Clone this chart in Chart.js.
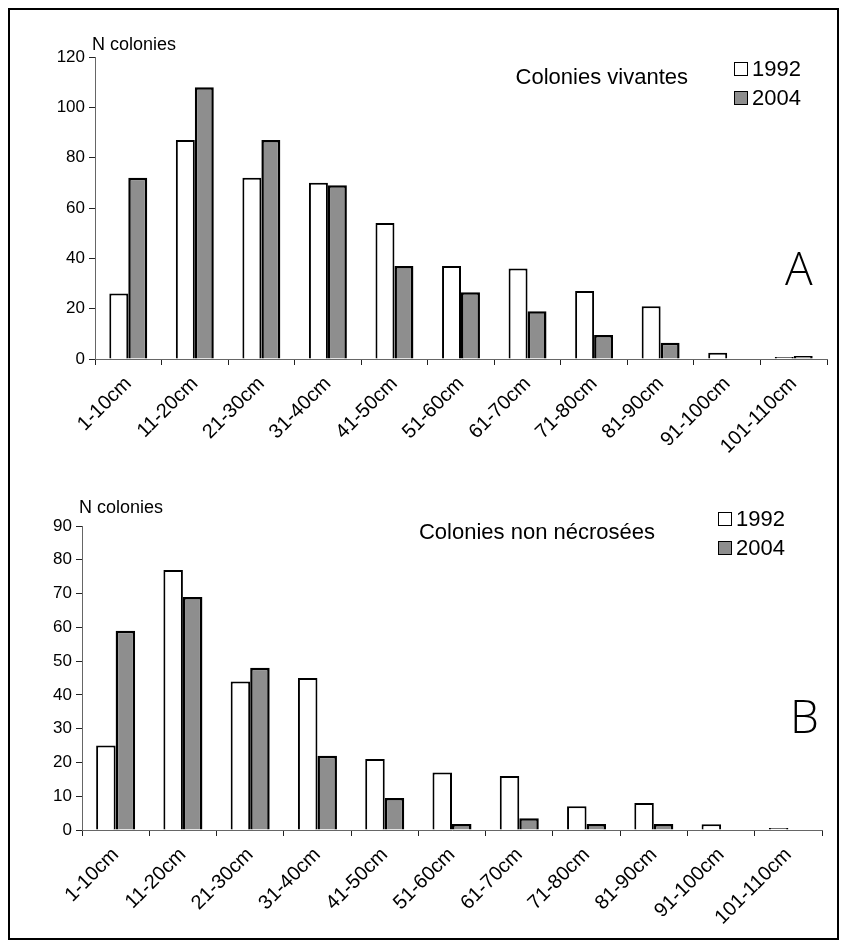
<!DOCTYPE html>
<html>
<head>
<meta charset="utf-8">
<script src="https://cdn.jsdelivr.net/npm/chart.js@4.4.1/dist/chart.umd.min.js"></script>
<style>
  body { margin: 0; background: #fff; width: 845px; height: 947px; position: relative; overflow: hidden; font-family: 'Liberation Sans', Arial, sans-serif; color: #000; }
  .frame { position: absolute; left: 8px; top: 8px; width: 827px; height: 928px; border: 2px solid #000; }
  .box { position: absolute; }
  .txt { position: absolute; line-height: 1; white-space: nowrap; }
  .sw { position: absolute; width: 12px; height: 12px; border: 1.5px solid #000; }
  .big { position: absolute; line-height: 1; font-family: 'Open Sans', sans-serif; font-weight: 300; font-size: 46px; color: #000; }
</style>
</head>
<body>
<div class="frame"></div>

<div class="box" style="left:0;top:0;width:845px;height:470px"><canvas id="chartA"></canvas></div>
<div class="box" style="left:0;top:470px;width:845px;height:477px"><canvas id="chartB"></canvas></div>

<!-- annotations graphe A -->
<div class="txt" style="left:92px;top:35px;font-size:18px">N colonies</div>
<div class="txt" style="right:157px;top:66px;font-size:22px">Colonies vivantes</div>
<div class="sw" style="left:734px;top:62px;background:#fff"></div>
<div class="txt" style="left:752px;top:58px;font-size:22px">1992</div>
<div class="sw" style="left:734px;top:91px;background:#8e8e8e"></div>
<div class="txt" style="left:752px;top:87px;font-size:22px">2004</div>
<div class="big" style="left:785px;top:244px">A</div>

<!-- annotations graphe B -->
<div class="txt" style="left:79px;top:498px;font-size:18px">N colonies</div>
<div class="txt" style="right:190px;top:521px;font-size:22px">Colonies non nécrosées</div>
<div class="sw" style="left:718px;top:512px;background:#fff"></div>
<div class="txt" style="left:736px;top:508px;font-size:22px">1992</div>
<div class="sw" style="left:718px;top:541px;background:#8e8e8e"></div>
<div class="txt" style="left:736px;top:537px;font-size:22px">2004</div>
<div class="big" style="left:790px;top:692px">B</div>

<script>
// classes de taille
const sizeClasses = ['1-10cm', '11-20cm', '21-30cm', '31-40cm', '41-50cm', '51-60cm',
                     '61-70cm', '71-80cm', '81-90cm', '91-100cm', '101-110cm'];

// A : colonies vivantes
const vivantes1992 = [26, 87, 72, 70, 54, 37, 36, 27, 21, 2.5, 0.8];
const vivantes2004 = [72, 108, 87, 69, 37, 26.5, 19, 9.5, 6.5, 0, 1.2];

// B : colonies non nécrosées
const nonNecrosees1992 = [25, 77, 44, 45, 21, 17, 16, 7, 8, 1.7, 0.6];
const nonNecrosees2004 = [59, 69, 48, 22, 9.5, 1.8, 3.5, 1.8, 1.8, 0, 0];

const yTicksA = { max: 120, step: 20 };
const yTicksB = { max: 90, step: 10 };

const FONT = "'Liberation Sans', Arial, sans-serif";

function makeChart(id, d1992, d2004, yTicks, geo) {
    const ctx = document.getElementById(id).getContext('2d');
    return new Chart(ctx, {
        type: 'bar',
        data: {
            labels: sizeClasses,
            datasets: [
                { label: '1992', data: d1992, backgroundColor: '#ffffff', borderColor: '#000',
                  borderWidth: 2, categoryPercentage: geo.cat, barPercentage: 1 },
                { label: '2004', data: d2004, backgroundColor: '#8e8e8e', borderColor: '#000',
                  borderWidth: 2.5, categoryPercentage: geo.cat, barPercentage: 1 }
            ]
        },
        options: {
            responsive: true,
            maintainAspectRatio: false,
            animation: false,
            layout: { padding: { top: geo.top, right: geo.right, left: 0, bottom: 0 } },
            plugins: { legend: { display: false }, tooltip: { enabled: false } },
            scales: {
                x: {
                    grid: { offset: true, drawOnChartArea: false, tickLength: 6, color: '#222' },
                    border: { color: '#666', width: 1 },
                    ticks: { maxRotation: 45, minRotation: 45, padding: 7, color: '#000',
                             font: { family: FONT, size: 20 } },
                    afterFit: s => { s.height = geo.xh; }
                },
                y: {
                    min: 0, max: yTicks.max,
                    ticks: { stepSize: yTicks.step, padding: 4, color: '#000',
                             font: { family: FONT, size: 17 } },
                    grid: { drawOnChartArea: false, tickLength: 6, color: '#222' },
                    border: { color: '#666', width: 1 },
                    afterFit: s => { s.width = geo.yw; }
                }
            }
        }
    });
}

makeChart('chartA', vivantes1992, vivantes2004, yTicksA,
          { top: 57, right: 18, yw: 95, xh: 111, cat: 0.57 });
makeChart('chartB', nonNecrosees1992, nonNecrosees2004, yTicksB,
          { top: 56, right: 23, yw: 82, xh: 117, cat: 0.58 });
</script>
</body>
</html>
